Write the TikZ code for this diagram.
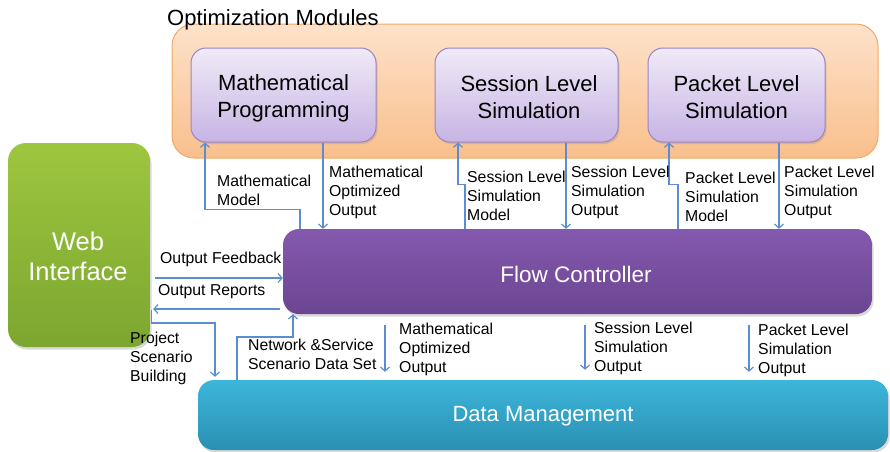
\documentclass[tikz,border=0pt]{standalone}
\usepackage{fontspec}
\setmainfont{Liberation Sans}
\usetikzlibrary{arrows.meta,shadows,calc}
\definecolor{arrc}{HTML}{5B8DD3}
\definecolor{orfillt}{HTML}{FDE2CA}
\definecolor{orfillb}{HTML}{F9BF8C}
\definecolor{ordraw}{HTML}{F3A966}
\definecolor{lavt}{HTML}{F0EAF7}
\definecolor{lavb}{HTML}{C7B4E4}
\definecolor{lavd}{HTML}{9C84C5}
\definecolor{flowt}{HTML}{8459AE}
\definecolor{flowb}{HTML}{6B4592}
\definecolor{grt}{HTML}{9EC63F}
\definecolor{grb}{HTML}{7CA630}
\definecolor{dmt}{HTML}{3DB6DB}
\definecolor{dmb}{HTML}{2A90B2}
\tikzset{
  arr/.style={draw=arrc, line width=1.2pt, -{Straight Barb[length=4pt,width=9pt]}},
  lbl/.style={anchor=north west, inner sep=0pt, align=left, font=\fontsize{15.8}{19}\selectfont},
  modbox/.style={rounded corners=15pt, draw=lavd, line width=1pt, top color=lavt, bottom color=lavb,
    inner sep=0pt, align=center, font=\fontsize{22}{27}\selectfont,
    drop shadow={opacity=0.25, shadow xshift=1.5pt, shadow yshift=-2pt}},
  bigbox/.style={rounded corners=16pt, inner sep=0pt, align=center, text=white,
    drop shadow={opacity=0.3, shadow xshift=1.5pt, shadow yshift=-2.5pt}}
}
\begin{document}
\begin{tikzpicture}[x=1pt,y=-1pt]
\useasboundingbox (0,0) rectangle (890,451);

% container
\node[rounded corners=22pt, draw=ordraw, line width=1pt, top color=orfillt, bottom color=orfillb,
  minimum width=706pt, minimum height=134pt, inner sep=0pt] (opt) at (525,91) {};
\node[anchor=west, inner sep=0pt, font=\fontsize{22}{26}\selectfont] (optlbl) at (167,20) {Optimization Modules};

\node[modbox, minimum width=185pt, minimum height=94pt] (mp) at (283.5,95) {};
\node[inner sep=0pt, align=center, font=\fontsize{22}{27}\selectfont] (mptxt) at (283.5,98) {Mathematical\\Programming};
\node[modbox, minimum width=183pt, minimum height=94pt] (sls) at (526.5,95) {};
\node[inner sep=0pt, align=center, font=\fontsize{22}{27}\selectfont] (slstxt) at (529,97) {Session Level\\Simulation};
\node[modbox, minimum width=177pt, minimum height=94pt] (pls) at (736.5,95) {};
\node[inner sep=0pt, align=center, font=\fontsize{22}{27}\selectfont] (plstxt) at (736.5,97) {Packet Level\\Simulation};

\node[bigbox, top color=grt, bottom color=grb, rounded corners=18pt, minimum width=142pt, minimum height=204pt] (web) at (79,245) {};
\node[inner sep=0pt, align=center, text=white, font=\fontsize{25.5}{30}\selectfont] (webtxt) at (78,256) {Web\\Interface};
\node[bigbox, top color=flowt, bottom color=flowb, minimum width=589pt, minimum height=85pt] (flow) at (577.5,271.5) {};
\node[inner sep=0pt, text=white, font=\fontsize{22.5}{26}\selectfont] (flowtxt) at (576,274) {Flow Controller};
\node[bigbox, top color=dmt, bottom color=dmb, minimum width=690pt, minimum height=70pt] (dm) at (543,415) {};
\node[inner sep=0pt, text=white, font=\fontsize{22}{26}\selectfont] (dmtxt) at (543,416) {Data Management};

% coordinates for connector columns
\coordinate (cmm) at (300,0);
\coordinate (cmmt) at (205,0);
\coordinate (cmo) at (323,0);
\coordinate (csm) at (465,0);
\coordinate (csmt) at (458,0);
\coordinate (cso) at (566,0);
\coordinate (cpm) at (678,0);
\coordinate (cpmt) at (669,0);
\coordinate (cpo) at (779,0);
\coordinate (dmo) at (385,0);
\coordinate (dso) at (585,0);
\coordinate (dpo) at (749,0);
\coordinate (ofb) at (0,278);
\coordinate (orp) at (0,309);
\coordinate (psb) at (215,323);
\coordinate (nsd) at (237,0);
\coordinate (nsd2) at (293,337);

% module connectors
\draw[arr] (cmm |- flow.north) -- ++(0,-19) -| (cmmt |- mp.south);
\draw[arr] (cmo |- mp.south) -- (cmo |- flow.north);
\draw[arr] (csm |- flow.north) -- ++(0,-44) -- ++(-7,0) -- (csmt |- sls.south);
\draw[arr] (cso |- sls.south) -- (cso |- flow.north);
\draw[arr] (cpm |- flow.north) -- ++(0,-44) -- ++(-9,0) -- (cpmt |- pls.south);
\draw[arr] (cpo |- pls.south) -- (cpo |- flow.north);

% flow to data
\draw[arr, shorten <=11pt, shorten >=8pt] (dmo |- flow.south) -- (dmo |- dm.north);
\draw[arr, shorten <=11pt, shorten >=10pt] (dso |- flow.south) -- (dso |- dm.north);
\draw[arr, shorten <=11pt, shorten >=8pt] (dpo |- flow.south) -- (dpo |- dm.north);

% web interface connectors
\draw[arr, shorten <=5pt] (web.east |- ofb) -- (flow.west |- ofb);
\draw[arr, shorten <=3pt, shorten >=3pt] (flow.west |- orp) -- (web.east |- orp);
\draw[arr, shorten >=3pt] ([xshift=1pt,yshift=-65pt]web.east) -- ++(0,13) -| (psb |- dm.north);
\draw[arr] (nsd |- dm.north) |- (nsd2) -- (nsd2 |- flow.south);

% labels
\node[lbl] (l1) at (217,175) {Mathematical\\Model};
\node[lbl] (l2) at (329,166) {Mathematical\\Optimized\\Output};
\node[lbl] (l3) at (467,171) {Session Level\\Simulation\\Model};
\node[lbl] (l4) at (571,166) {Session Level\\Simulation\\Output};
\node[lbl] (l5) at (685,172) {Packet Level\\Simulation\\Model};
\node[lbl] (l6) at (784,166) {Packet Level\\Simulation\\Output};
\node[lbl] (l7) at (160,252) {Output Feedback};
\node[lbl] (l8) at (158,284) {Output Reports};
\node[lbl] (l9) at (130,332) {Project\\Scenario\\Building};
\node[lbl] (l10) at (248,339) {Network \&Service\\Scenario Data Set};
\node[lbl] (l11) at (399,323) {Mathematical\\Optimized\\Output};
\node[lbl] (l12) at (594,322) {Session Level\\Simulation\\Output};
\node[lbl] (l13) at (758,324) {Packet Level\\Simulation\\Output};
\end{tikzpicture}
\end{document}
